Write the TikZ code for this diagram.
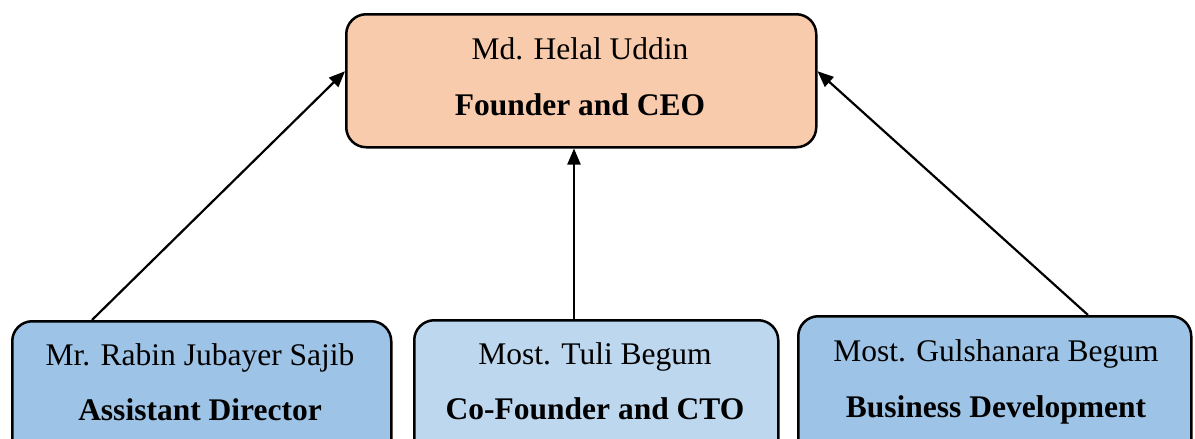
\documentclass[tikz,border=0pt]{standalone}
\usepackage{fontspec}
\setmainfont{Liberation Serif}
\usetikzlibrary{arrows.meta}
\definecolor{peach}{HTML}{F8CBAD}
\definecolor{midblue}{HTML}{9DC3E6}
\definecolor{lightblue}{HTML}{BDD7EE}
\tikzset{
  box/.style={draw=black, line width=2.5pt, rounded corners=20pt, anchor=north west, inner sep=0pt},
  nm/.style={anchor=base, inner sep=0pt, font=\fontsize{31.5}{36}\selectfont},
  role/.style={anchor=base, inner sep=0pt, font=\fontsize{31.5}{36}\selectfont\bfseries},
  arr/.style={line width=2.2pt, -{Triangle[length=16pt,width=13pt]}}
}
\begin{document}
\begin{tikzpicture}[x=1pt,y=-1pt]
\useasboundingbox (0,0) rectangle (1195,439);
\clip (0,0) rectangle (1195,439);
% boxes
\node[box, fill=peach, minimum width=470pt, minimum height=133pt] (ceo) at (345,13) {};
\node[box, fill=midblue, minimum width=379pt, minimum height=170pt] (ad) at (11,320) {};
\node[box, fill=lightblue, minimum width=364pt, minimum height=170pt] (cto) at (413,319) {};
\node[box, fill=midblue, minimum width=393pt, minimum height=170pt] (bd) at (797,315) {};
% texts
\node[nm] (ceoname) at (580,59) {Md. Helal Uddin};
\node[role] (ceorole) at (580,115) {Founder and CEO};
\node[nm] (adname) at (200,365) {Mr. Rabin Jubayer Sajib};
\node[role] (adrole) at (200,420) {Assistant Director};
\node[nm] (ctoname) at (595,364) {Most. Tuli Begum};
\node[role] (ctorole) at (595,419) {Co-Founder and CTO};
\node[nm] (bdname) at (996,361) {Most. Gulshanara Begum};
\node[role] (bdrole) at (996,417) {Business Development};
% arrows
\draw[arr] ([xshift=81pt]ad.north west) -- ([yshift=9.5pt]ceo.west);
\coordinate (mstart) at ([xshift=161pt]cto.north west);
\draw[arr] (mstart) -- (mstart |- ceo.south);
\draw[arr] ([xshift=291pt]bd.north west) -- ([yshift=9.5pt]ceo.east);
\end{tikzpicture}
\end{document}
